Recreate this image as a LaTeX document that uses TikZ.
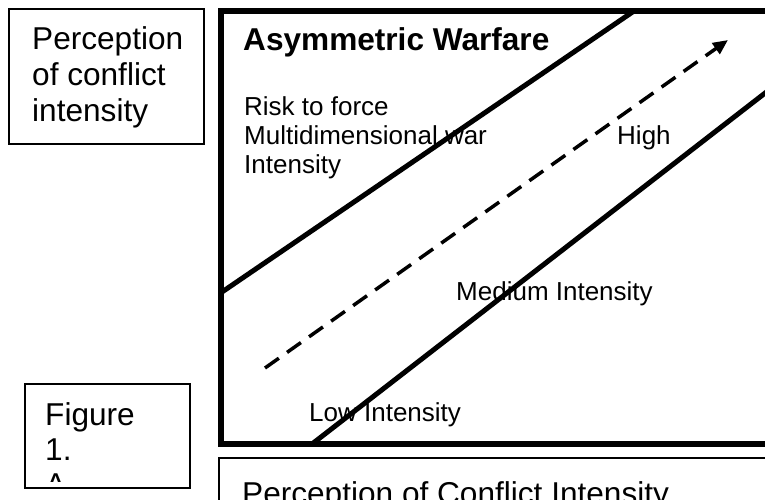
\documentclass[tikz,border=0pt]{standalone}
\usepackage{fontspec}
\setmainfont{Liberation Sans}
\usetikzlibrary{arrows.meta}

\begin{document}
\begin{tikzpicture}[x=1pt,y=-1pt]

    \tikzstyle{thinbox} = [draw, line width=1.5pt, rectangle, inner sep=0pt]
    \tikzstyle{thickbox} = [draw, line width=5.5pt, rectangle, inner sep=0pt]
    \tikzstyle{bigtext} = [anchor=base west, inner sep=0pt, font=\fontsize{31.6}{36}\selectfont]
    \tikzstyle{boldtext} = [bigtext, font=\fontsize{31.6}{36}\selectfont\bfseries]
    \tikzstyle{smalltext} = [anchor=base west, inner sep=0pt, font=\fontsize{26}{30}\selectfont]
    \tikzstyle{band} = [line width=5pt]
    \tikzstyle{trend} = [line width=3.5pt, dash pattern=on 17pt off 10pt, -{Triangle[length=15pt,width=13pt]}]

    \clip (0,0) rectangle (765,499);

    % boxes
    \node[thinbox, minimum width=195pt, minimum height=135pt] (percbox) at (106.5,76.5) {};
    \node[thickbox, minimum width=599pt, minimum height=433pt] (warbox) at (520.5,227.5) {};
    \node[thinbox, minimum width=165pt, minimum height=104pt] (figbox) at (107.5,436) {};
    \node[thinbox, minimum width=601pt, minimum height=82pt] (axisbox) at (519.5,499) {};

    % texts
    \node[bigtext] (perc1) at (32,49) {Perception};
    \node[bigtext] (perc2) at (32,85) {of conflict};
    \node[bigtext] (perc3) at (32,121) {intensity};

    \node[boldtext] (title) at (243,50) {Asymmetric Warfare};
    \node[smalltext] (risk) at (244,115) {Risk to force};
    \node[smalltext] (multi) at (244,144) {Multidimensional war};
    \node[smalltext] (inten) at (244,173) {Intensity};
    \node[smalltext] (high) at (617,144) {High};
    \node[smalltext] (medium) at (456,300) {Medium Intensity};
    \node[smalltext] (low) at (309,421) {Low Intensity};

    \node[bigtext] (axis) at (242,504) {Perception of Conflict Intensity};

    \begin{scope}
        \clip (25,384) rectangle (190,481);
        \node[bigtext] (fig1) at (45,425) {Figure};
        \node[bigtext] (fig2) at (45,460) {1.};
        \node[bigtext] (fig3) at (45,495) {A};
    \end{scope}

    % bands and trend
    \coordinate (up1) at (222,292);
    \coordinate (up2) at (634,11);
    \coordinate (lo1) at (312,444);
    \coordinate (lo2) at (871,11);
    \coordinate (tr1) at (265,368);
    \coordinate (tr2) at (728,40);

    \draw[band] (up1) -- (up2);
    \draw[band] (lo1) -- (lo2);
    \draw[trend] (tr1) -- (tr2);
\end{tikzpicture}
\end{document}
